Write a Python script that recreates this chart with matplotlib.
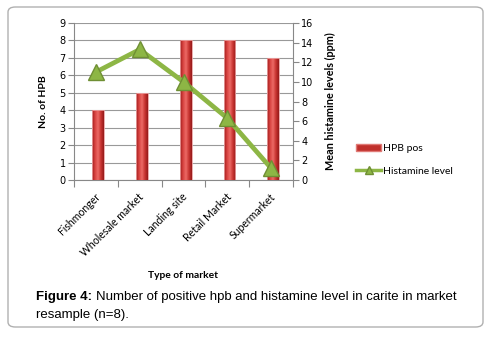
import numpy as np
import matplotlib
matplotlib.use('Agg')
import matplotlib.pyplot as plt
from matplotlib.patches import FancyBboxPatch
from matplotlib.lines import Line2D
from matplotlib.patches import Patch
from matplotlib.colors import LinearSegmentedColormap

# datos
mercados = ['Fishmonger', 'Wholesale market', 'Landing site', 'Retail Market', 'Supermarket']
hpb_pos = [4, 5, 8, 8, 7]
histamina = [11.0, 13.3, 10.0, 6.3, 1.2]

plt.rcParams['font.family'] = ['DejaVu Sans']
fuente = ['Lato', 'DejaVu Sans']

fig = plt.figure(figsize=(4.96, 3.38), dpi=100)
W, H = 496, 338

# marco redondeado exterior
marco = FancyBboxPatch((8 / W, 1 - 327 / H), 475 / W, 320 / H,
                       boxstyle='round,pad=0,rounding_size=0.015',
                       transform=fig.transFigure, facecolor='none',
                       edgecolor='#b0b0b0', linewidth=1.0, zorder=-1)
fig.patches.append(marco)

ax = fig.add_axes([74 / W, 1 - 180 / H, 219 / W, 157 / H])
ax.patch.set_alpha(0)
x = np.arange(len(mercados))

# barras con degradado tipo cilindro
rojo = LinearSegmentedColormap.from_list(
    'rojo', ['#9c1c1c', '#d8423f', '#ec6a66', '#c83431', '#951a1a'])
gradiente = np.linspace(0, 1, 64).reshape(1, -1)
barras = ax.bar(x + 0.05, hpb_pos, width=0.27, color='none',
                edgecolor='#e8a0a0', linewidth=0.6, zorder=3)
for b in barras:
    x0, y0 = b.get_x(), b.get_y()
    im = ax.imshow(gradiente, cmap=rojo, aspect='auto', zorder=2.9,
                   extent=[x0, x0 + b.get_width(), y0, y0 + b.get_height()])
    im.set_clip_path(b)

ax.set_ylim(0, 9)
ax.set_yticks(range(0, 10))
ax.set_xlim(-0.5, len(mercados) - 0.5)
ax.yaxis.grid(True, color='#999999', linewidth=0.8, zorder=0)
ax.set_axisbelow(True)
for s in ['top', 'right']:
    ax.spines[s].set_visible(False)
ax.spines['left'].set_color('#888888')
ax.spines['bottom'].set_color('#888888')
ax.tick_params(axis='y', labelsize=7, length=4, color='#888888', pad=2)
ax.set_xticks(np.arange(-0.5, len(mercados)), labels=[''] * (len(mercados) + 1))
ax.tick_params(axis='x', length=5, color='#888888')
for i, m in enumerate(mercados):
    ax.annotate(m, xy=(i + 0.05, 0), xycoords=('data', 'axes fraction'),
                xytext=(0, -11), textcoords='offset points',
                rotation=45, rotation_mode='anchor', ha='right', va='center',
                fontsize=7.6, family=fuente)
ax.set_ylabel('No. of HPB', fontsize=7.5, fontweight='bold', labelpad=8,
              family=fuente)

# eje derecho: histamina
ax2 = ax.twinx()
ax2.plot(x, histamina, color='#8db645', linewidth=3.4, marker='^',
         markersize=12, markerfacecolor='#8db645', markeredgecolor='#6f8f34',
         zorder=4)
ax2.set_ylim(0, 16)
ax2.set_yticks(range(0, 17, 2))
for s in ['top', 'left']:
    ax2.spines[s].set_visible(False)
ax2.spines['right'].set_color('#888888')
ax2.spines['bottom'].set_visible(False)
ax2.tick_params(axis='y', labelsize=7, length=4, color='#888888', pad=2)
ax2.set_ylabel('Mean histamine levels (ppm)', fontsize=7.8, fontweight='bold',
               labelpad=8, family=fuente)

fig.text(183 / W, 1 - 276 / H, 'Type of market', fontsize=7.4,
         fontweight='bold', ha='center', va='center', family=fuente)

# leyenda
handles = [Patch(facecolor='#c0302c', edgecolor='#e07a76'),
           Line2D([], [], color='#8db645', linewidth=2.5, marker='^',
                  markersize=6, markerfacecolor='#8db645',
                  markeredgecolor='#6f8f34')]
fig.legend(handles, ['HPB pos', 'Histamine level'], loc='center left',
           bbox_to_anchor=(347 / W, 1 - 160 / H), frameon=False,
           prop={'family': fuente, 'size': 7.5},
           handlelength=2.4, handletextpad=0.2, labelspacing=1.3)

# pie de figura
fig.text(36 / W, 1 - 297 / H, 'Figure 4:', fontsize=9.5, fontweight='bold',
         family='Liberation Sans', va='center')
fig.text(96 / W, 1 - 297 / H,
         'Number of positive hpb and histamine level in carite in market',
         fontsize=9.5, family='Liberation Sans', va='center')
fig.text(36 / W, 1 - 315 / H, 'resample (n=8).', fontsize=9.5,
         family='Liberation Sans', va='center')

fig.savefig('out.png', dpi=100)
